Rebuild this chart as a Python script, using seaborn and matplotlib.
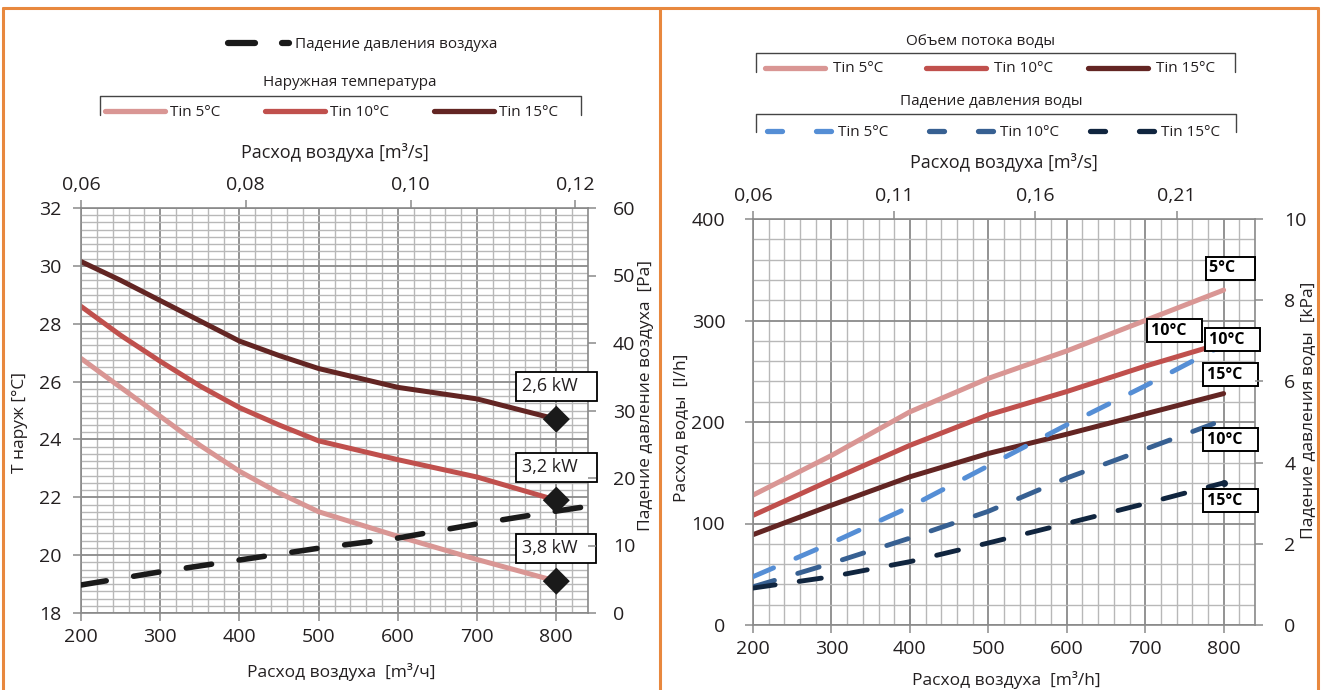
import numpy as np
import pandas as pd
import matplotlib
matplotlib.use('Agg')
import matplotlib.pyplot as plt
import seaborn as sns
from matplotlib.lines import Line2D
from matplotlib.ticker import MultipleLocator, FuncFormatter

W, H = 1322, 690

# --- left panel: outdoor temperature vs air flow ---
air_flow = [200, 250, 300, 350, 400, 450, 500, 600, 700, 800]
t_out_5 = [26.8, 25.8, 24.8, 23.8, 22.9, 22.15, 21.5, 20.65, 19.85, 19.1]
t_out_10 = [28.6, 27.6, 26.7, 25.85, 25.1, 24.5, 23.95, 23.3, 22.7, 21.9]
t_out_15 = [30.15, 29.5, 28.8, 28.1, 27.4, 26.9, 26.45, 25.8, 25.4, 24.7]
capacity = ['3,8 kW', '3,2 kW', '2,6 kW']

air_flow_dp = [200, 300, 400, 500, 600, 700, 800, 840]
air_dp = [4.15, 6.1, 7.85, 9.6, 11.1, 13.2, 15.1, 15.8]

# --- right panel: water flow / water pressure drop ---
air_flow_w = [200, 300, 400, 500, 600, 700, 800]
water_flow_5 = [128, 167, 210, 243, 270, 300, 330]
water_flow_10 = [108, 143, 177, 207, 230, 255, 278]
water_flow_15 = [89, 118, 146, 169, 188, 208, 228]
water_dp_5 = [1.19, 2.02, 2.91, 3.92, 4.93, 5.89, 6.9]
water_dp_10 = [0.94, 1.52, 2.14, 2.8, 3.62, 4.33, 5.05]
water_dp_15 = [0.91, 1.19, 1.56, 2.02, 2.5, 2.99, 3.5]

tin_names = ['Tin 5°C', 'Tin 10°C', 'Tin 15°C']
reds = ['#D99694', '#C0504D', '#632523']
blues = ['#558ED5', '#376092', '#10253F']

sns.set_theme(style='white')
plt.rcParams['font.family'] = ['Open Sans', 'DejaVu Sans']
TXT = '#231f20'
MAJ = '#8a8a8a'
MIN = '#b8b8b8'
ORANGE = '#E8883E'
TICK = 14
LAB = 12.5


def comma(fmt):
    return FuncFormatter(lambda v, p: format(v, fmt).replace('.', ','))


def style_grid(ax, ymaj, ymin, ypad):
    ax.set_xlim(200, 840)
    ax.xaxis.set_major_locator(MultipleLocator(100))
    ax.xaxis.set_minor_locator(MultipleLocator(20))
    ax.yaxis.set_major_locator(MultipleLocator(ymaj))
    ax.yaxis.set_minor_locator(MultipleLocator(ymin))
    ax.grid(which='major', color=MAJ, lw=1.3)
    ax.grid(which='minor', color=MIN, lw=1.0)
    ax.set_axisbelow(True)
    for s in ax.spines.values():
        s.set_color(MAJ)
        s.set_linewidth(1.2)
    ax.tick_params(which='major', direction='out', length=6, width=1.1,
                   color=MAJ, labelsize=TICK, labelcolor=TXT,
                   left=True, bottom=True)
    ax.tick_params(axis='x', pad=5)
    ax.tick_params(axis='y', pad=ypad)
    ax.tick_params(which='minor', length=0)


def twin_style(axr, major, pad):
    axr.yaxis.set_major_locator(MultipleLocator(major))
    axr.tick_params(direction='out', length=6, width=1.1, color=MAJ,
                    labelsize=TICK, labelcolor=TXT, pad=pad, right=True)
    for s in axr.spines.values():
        s.set_visible(False)


def top_axis(ax, fwd, inv, ticks, text, ty):
    top = ax.secondary_xaxis('top', functions=(fwd, inv))
    top.set_xticks(ticks)
    top.xaxis.set_major_formatter(comma('.2f'))
    top.tick_params(direction='out', length=6, width=1.1, color=MAJ,
                    labelsize=TICK, labelcolor=TXT, pad=4)
    top.spines['top'].set_visible(False)
    ax.text(0.5, ty, text, transform=ax.transAxes, ha='center', va='center',
            fontsize=13, color=TXT)


fig = plt.figure(figsize=(W / 100, H / 100), dpi=100)

# ---------------- left panel ----------------
ax1 = fig.add_axes([81 / W, 1 - 613 / H, 507 / W, 405 / H])
df_t = pd.DataFrame({
    'q': air_flow * 3,
    't': t_out_5 + t_out_10 + t_out_15,
    'tin': [n for n in tin_names for _ in air_flow],
})
sns.lineplot(data=df_t, x='q', y='t', hue='tin', palette=reds, lw=3.6,
             legend=False, ax=ax1, solid_capstyle='round')
ends = df_t.groupby('tin', sort=False).last().reset_index()
sns.scatterplot(data=ends, x='q', y='t', marker='D', s=190, color='#1a1a1a',
                edgecolor='none', ax=ax1, zorder=5, legend=False)
for lab, (_, row) in zip(capacity, ends.iterrows()):
    ax1.annotate(lab + '   ', (row['q'], row['t']), xytext=(0, 33),
                 textcoords='offset pixels', ha='center', va='center',
                 fontsize=13, color=TXT, zorder=6,
                 bbox=dict(boxstyle='square,pad=0.3', fc='white', ec='black', lw=1.3))
ax1.set_ylim(18, 32)
style_grid(ax1, 2, 0.25, 8)
ax1.set_xlabel('Расход воздуха  [m³/ч]', fontsize=LAB, color=TXT)
ax1.xaxis.set_label_coords(0.513, -0.123)
ax1.set_ylabel('T наруж [°C]', fontsize=LAB, color=TXT)
ax1.yaxis.set_label_coords(-0.1045, 0.47)

ax1r = ax1.twinx()
sns.lineplot(x=air_flow_dp, y=air_dp, color='#1a1a1a', lw=4, ax=ax1r,
             linestyle=(0, (4.6, 5.0)), dash_capstyle='round')
ax1r.set_ylim(0, 60)
twin_style(ax1r, 10, 12)
ax1r.set_ylabel('Падение давление воздуха  [Pa]', fontsize=LAB, color=TXT)
ax1r.yaxis.set_label_coords(1.0986, 0.537)

top_axis(ax1, lambda q: 0.06 + (q - 200) * 0.02 / 208,
         lambda s: 200 + (s - 0.06) * 208 / 0.02,
         [0.06, 0.08, 0.10, 0.12], 'Расход воздуха [m³/s]', 1.136)

# ---------------- right panel ----------------
ax2 = fig.add_axes([753 / W, 1 - 625 / H, 502 / W, 406 / H])
flows = [water_flow_5, water_flow_10, water_flow_15]
dps = [water_dp_5, water_dp_10, water_dp_15]
for vals, c in zip(flows, reds):
    sns.lineplot(x=air_flow_w, y=vals, color=c, lw=3.6, ax=ax2,
                 solid_capstyle='round')
ax2.set_ylim(0, 400)
style_grid(ax2, 100, 20, 14)
ax2.set_xlabel('Расход воздуха  [m³/h]', fontsize=LAB, color=TXT)
ax2.xaxis.set_label_coords(0.504, -0.113)
ax2.set_ylabel('Расход воды  [l/h]', fontsize=LAB, color=TXT)
ax2.yaxis.set_label_coords(-0.1275, 0.485)

ax2r = ax2.twinx()
for vals, c in zip(dps, blues):
    sns.lineplot(x=air_flow_w, y=vals, color=c, lw=3.5, ax=ax2r,
                 linestyle=(0, (4.6, 5.0)), dash_capstyle='round')
ax2r.plot(air_flow_w[-1], water_dp_15[-1], 'o', color=blues[2], ms=4)
ax2r.set_ylim(0, 10)
twin_style(ax2r, 2, 15)
ax2r.set_ylabel('Падение давления воды  [kPa]', fontsize=LAB, color=TXT)
ax2r.yaxis.set_label_coords(1.0896, 0.53)

top_axis(ax2, lambda q: 0.06 + (q - 200) / 3600,
         lambda s: 200 + (s - 0.06) * 3600,
         [0.06, 0.11, 0.16, 0.21], 'Расход воздуха [m³/s]', 1.138)

# temperature tags at line ends
tags = [('5°C', ax2, water_flow_5, (7, 22)),
        ('10°C', ax2, water_flow_10, (-49, 12)),
        ('10°C', ax2r, water_dp_5, (9, 5)),
        ('15°C', ax2, water_flow_15, (7, 19)),
        ('10°C', ax2r, water_dp_10, (7, -20)),
        ('15°C', ax2r, water_dp_15, (7, -18))]
for txt, a, vals, off in tags:
    a.annotate(txt.ljust(7), (air_flow_w[-1], vals[-1]), xytext=off,
               textcoords='offset pixels', ha='center', va='center',
               fontsize=11.5, fontweight='bold', color='black', zorder=8,
               annotation_clip=False,
               bbox=dict(boxstyle='square,pad=0.22', fc='white', ec='black', lw=1.4))


# ---------------- legends drawn in figure pixels ----------------
def P(x, y):
    return x / W, 1 - y / H


def seg(x0, x1, y, color, lw=3.8):
    (a, b), (c, d) = P(x0, y), P(x1, y)
    fig.add_artist(Line2D([a, c], [b, d], color=color, lw=lw,
                          solid_capstyle='round', transform=fig.transFigure))


def bracket(x0, x1, ytop, ybot):
    xs = [x0, x0, x1, x1]
    ys = [ybot, ytop, ytop, ybot]
    pts = [P(x, y) for x, y in zip(xs, ys)]
    fig.add_artist(Line2D([p[0] for p in pts], [p[1] for p in pts],
                          color='#444444', lw=1.0, transform=fig.transFigure))


def label(x, y, s, ha='left', size=11):
    fx, fy = P(x, y)
    fig.text(fx, fy, s, ha=ha, va='center', fontsize=size, color=TXT)


# left legends
seg(228, 255, 43, '#1a1a1a', lw=4.5)
seg(282, 289, 43, '#1a1a1a', lw=4.5)
label(295, 44, 'Падение давления воздуха')
label(350, 83, 'Наружная температура', ha='center')
bracket(100, 581, 96, 115)
for x0, c, n in zip([105, 265, 434], reds, tin_names):
    seg(x0, x0 + 60, 111, c)
    label(x0 + 65, 112, n)

# right legends
label(981, 42, 'Объем потока воды', ha='center')
bracket(756, 1235, 53, 72)
for x0, c, n in zip([765, 926, 1088], reds, tin_names):
    seg(x0, x0 + 60, 68, c)
    label(x0 + 68, 69, n)
label(991, 102, 'Падение давления воды', ha='center')
bracket(756, 1236, 114, 132)
for x0, c, n in zip([767, 929, 1090], blues, tin_names):
    seg(x0, x0 + 15, 131, c)
    seg(x0 + 49, x0 + 64, 131, c)
    label(x0 + 71, 132, n)

# orange frame
for xs, ys in [([3, 1318], [8, 8]), ([3, 3], [8, 690]),
               ([660, 660], [8, 690]), ([1318, 1318], [8, 690])]:
    pts = [P(x, y) for x, y in zip(xs, ys)]
    fig.add_artist(Line2D([p[0] for p in pts], [p[1] for p in pts],
                          color=ORANGE, lw=2.2, transform=fig.transFigure))

fig.savefig('out.png', dpi=100)
